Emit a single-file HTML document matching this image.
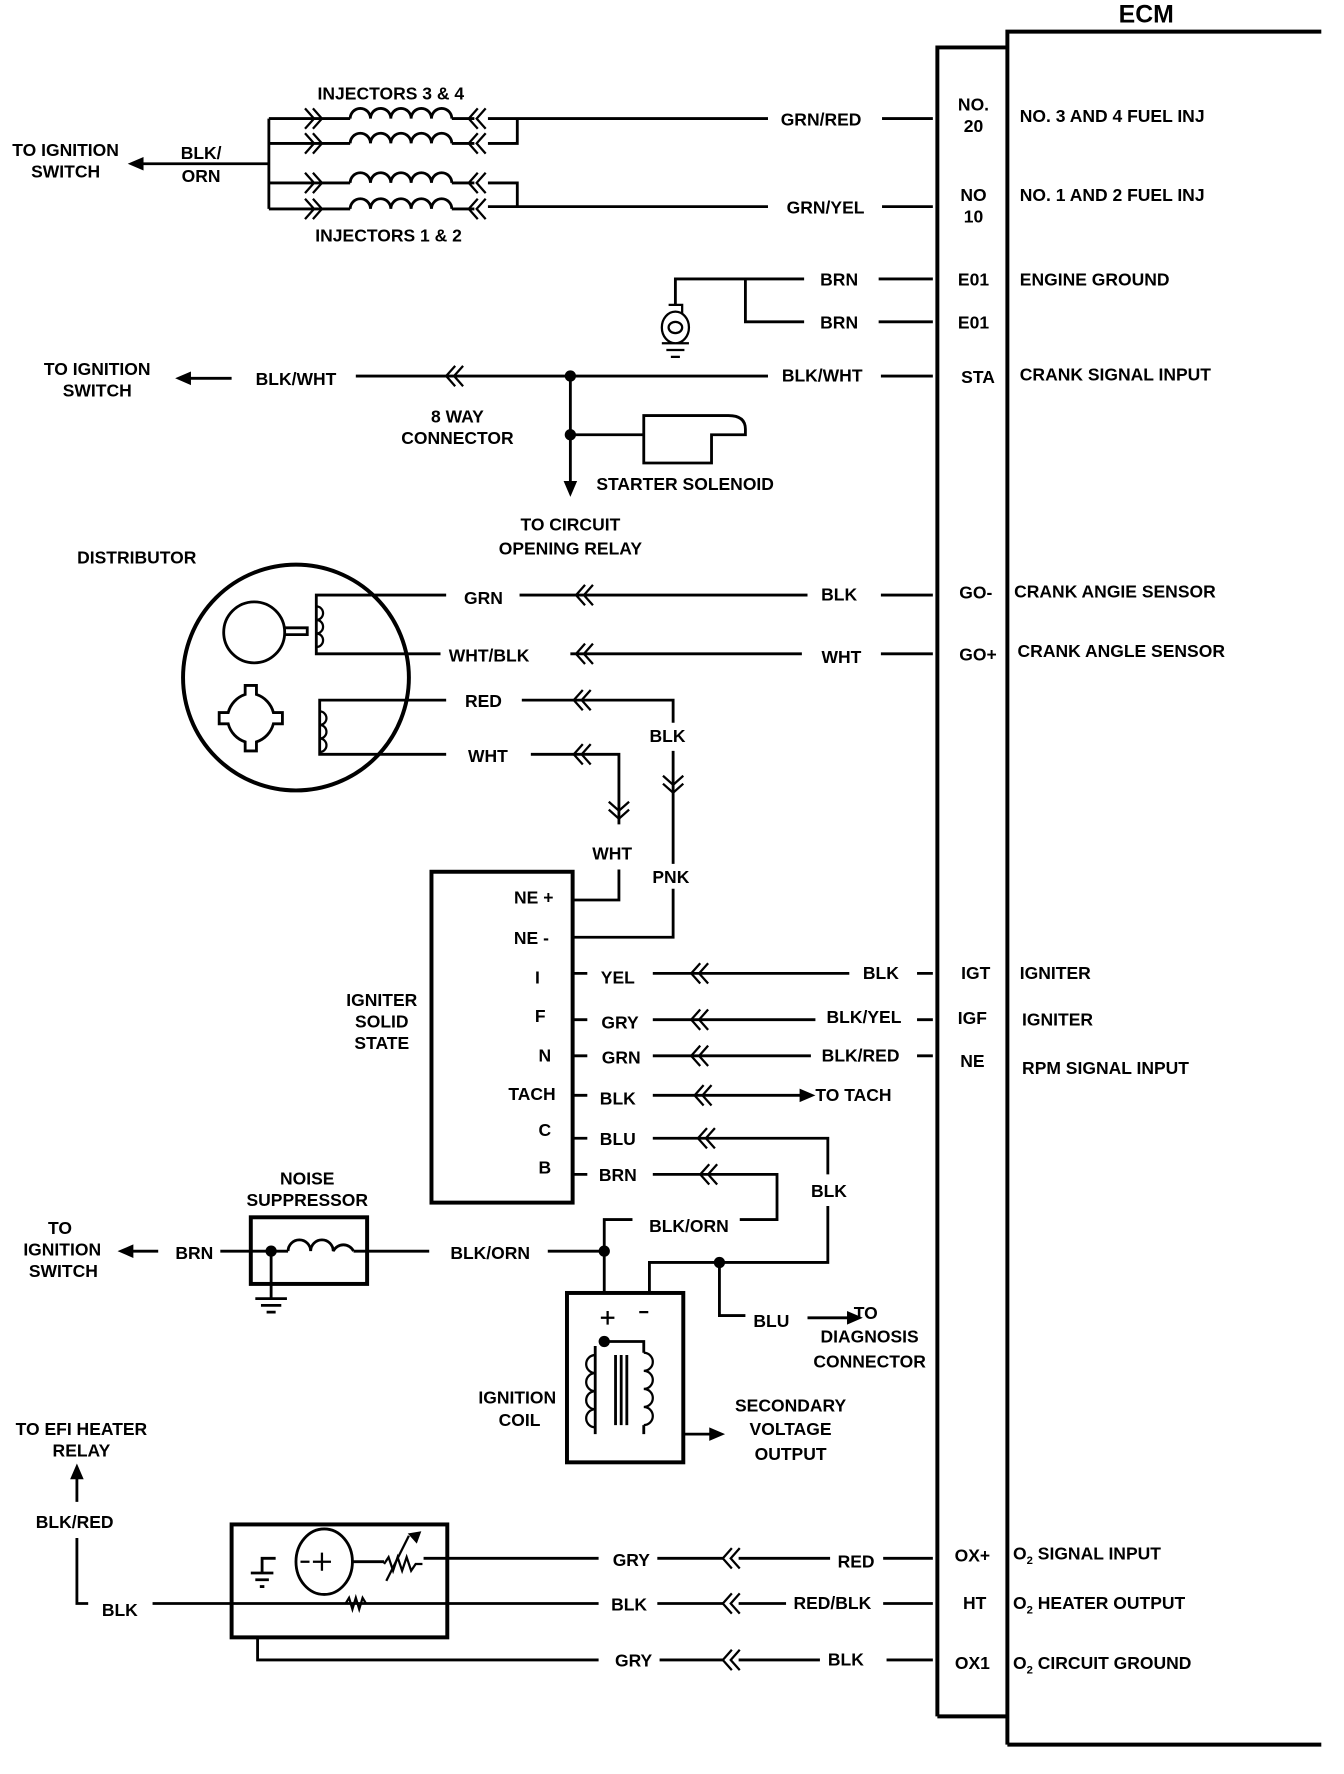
<!DOCTYPE html>
<html><head><meta charset="utf-8"><style>
html,body{margin:0;padding:0;background:#fff}
svg{display:block}
text{font-family:"Liberation Sans",sans-serif;font-weight:bold;font-size:15.5px;fill:#000}
.m{text-anchor:middle}
</style></head><body>
<svg width="1344" height="1774" viewBox="0 0 1190 1571" xmlns="http://www.w3.org/2000/svg">
<defs>
<g id="cl"><path d="M8 -9 L0 0 L8 9 M15 -9 L7 0 L15 9" fill="none" stroke="#000" stroke-width="2"/></g>
<g id="cr"><path d="M-8 -9 L0 0 L-8 9 M-15 -9 L-7 0 L-15 9" fill="none" stroke="#000" stroke-width="2"/></g>
<g id="cd"><path d="M-9 -8 L0 0 L9 -8 M-9 -15 L0 -7 L9 -15" fill="none" stroke="#000" stroke-width="2"/></g>
<path id="hump" d="M0 0 a9 9 0 0 1 18 0 a9 9 0 0 1 18 0 a9 9 0 0 1 18 0 a9 9 0 0 1 18 0 a9 9 0 0 1 18 0" fill="none" stroke="#000" stroke-width="2.5"/>
</defs>
<g fill="none" stroke="#000" stroke-width="2.5">
<path d="M830 1520 V42 H892" stroke-width="3.5"/>
<path d="M892 1545 V28 H1170" stroke-width="3.5"/>
<path d="M830 1520 H892 M892 1545 H1170" stroke-width="3.5"/>
<path d="M120 145 H238 M238 105 V185 M238 105 H270 M238 127 H270 M238 162 H270 M238 185 H270"/>
<path d="M270 105 H310 M400 105 H420 M270 127 H310 M400 127 H420 M270 162 H310 M400 162 H420 M270 185 H310 M400 185 H420"/>
<path d="M432 105 H680 M432 127 H458 V105 M781 105 H826"/>
<path d="M432 183 H680 M432 162 H458 V183 M781 183 H826"/>
<path d="M598 270 V247 H712 M660 247 V285 H712 M778 247 H826 M778 285 H826"/>
<path d="M315 333 H680 M780 333 H826 M163 335 H205 M505 333 V430 M505 385 H570"/>
<path d="M570 368 H645 Q660 368 660 380 L660 385 H630 V410 H570 Z"/>
<circle cx="262" cy="600" r="100" stroke-width="3.5"/>
<circle cx="225" cy="560" r="27"/>
<path d="M252 556 H272 V562 H252"/>
<path d="M395 527 H280 V579 H390 M460 527 H715 M780 527 H826 M505 579 H710 M780 579 H826"/>
<path d="M395 620 H283 V668 H395 M462 620 H596 V640 M596 665 V765 M596 787 V830 H507 M470 668 H548 V730 M548 770 V797 H507"/>
<path d="M217 607 h10 v8 a23 23 0 0 1 15 16 h8 v10 h-8 a23 23 0 0 1 -15 16 v8 h-10 v-8 a23 23 0 0 1 -15 -16 h-8 v-10 h8 a23 23 0 0 1 15 -16 z"/>
<rect x="382" y="772" width="125" height="293" stroke-width="3.5"/>
<path d="M507 862 H520 M578 862 H752 M812 862 H826"/>
<path d="M507 903 H520 M578 903 H722 M812 903 H826"/>
<path d="M507 935 H520 M578 935 H718 M812 935 H826"/>
<path d="M507 970 H520 M578 970 H715"/>
<path d="M507 1008 H520 M578 1008 H733 V1040 M733 1068 V1118 H575 V1145 M637 1118 V1165 H660 M715 1167 H758"/>
<path d="M507 1040 H520 M578 1040 H688 V1080 H655 M560 1080 H535 V1145"/>
<rect x="222" y="1078" width="103" height="59" stroke-width="3.5"/>
<path d="M112 1108 H140 M195 1108 H255 M313 1108 H380 M485 1108 H535 M240 1108 V1150 M226 1150 H254 M231 1156 H249 M236 1162 H244"/>
<rect x="502" y="1145" width="103" height="150" stroke-width="3.5"/>
<path d="M535 1188 H570 V1198 M527 1192 V1270 M570 1262 V1270 M545 1200 V1262 M550 1200 V1262 M555 1200 V1262 M605 1270 H635"/>
<path d="M68 1300 V1330 M68 1362 V1420 H78 M135 1420 H530 M375 1380 H530 M228 1450 V1470 H530"/>
<rect x="205" y="1350" width="191" height="100" stroke-width="3.5"/>
<path d="M244 1380 H232 V1392 M222 1393 H242 M226 1399 H238 M230 1405 H234"/>
<ellipse cx="287" cy="1383" rx="25" ry="29"/>
<path d="M312 1383 H340"/>
<path d="M582 1380 H640 M654 1380 H735 M782 1380 H826 M582 1420 H640 M654 1420 H696 M782 1420 H826 M584 1470 H640 M654 1470 H726 M785 1470 H826"/>
</g>
<g fill="none" stroke="#000" stroke-width="2">
<path d="M340 1385 l4 -6 l4 12 l4 -12 l4 12 l4 -12 l4 12 l4 -6 h6"/>
<path d="M342 1400 L362 1360"/>
<path d="M306 1420 l3 -5 l3 10 l3 -10 l3 10 l3 -10 l3 5"/>
<path d="M285 1375 V1391 M277 1383 H293 M266 1383 H274"/>
<path d="M527 1200 a8 8 0 0 0 0 16 a8 8 0 0 0 0 16 a8 8 0 0 0 0 16 a8 8 0 0 0 0 16 M570 1198 a8 8 0 0 1 0 16 a8 8 0 0 1 0 16 a8 8 0 0 1 0 16 a8 8 0 0 1 0 16"/>
<path d="M280 537 a6 6 0 0 1 0 12 a6 6 0 0 1 0 12 a6 6 0 0 1 0 12 M283 630 a6 6 0 0 1 0 12 a6 6 0 0 1 0 12 a6 6 0 0 1 0 12"/>
<path d="M592 270 h12 v8 M598 278 m-12 12 a12 14 0 1 0 24 0 a12 14 0 1 0 -24 0 M592 290 a6 5 0 1 0 12 0 a6 5 0 1 0 -12 0 M586 304 H610 M590 310 H606 M594 316 H602"/>
<path d="M532 1167 H544 M538 1161 V1173 M566 1162 H574"/>
</g>
<g fill="#000">
<circle cx="505" cy="333" r="5"/><circle cx="505" cy="385" r="5"/>
<circle cx="535" cy="1108" r="5"/><circle cx="637" cy="1118" r="5"/><circle cx="240" cy="1108" r="5"/><circle cx="535" cy="1188" r="5"/>
<path d="M113 145 l14 -6 v12 z M155 335 l14 -6 v12 z M505 440 l-6 -14 h12 z M68 1296 l-6 14 h12 z M722 970 l-14 -6 v12 z M764 1167 l-14 -6 v12 z M642 1270 l-14 -6 v12 z M104 1108 l14 -6 v12 z M373 1356 l-12 2 l8 9 z"/>
</g>
<use href="#hump" x="310" y="105"/><use href="#hump" x="310" y="127"/><use href="#hump" x="310" y="162"/><use href="#hump" x="310" y="185"/>
<path d="M255 1108 a10 10 0 0 1 20 0 a10 10 0 0 1 20 0 a10 10 0 0 1 18 0" fill="none" stroke="#000" stroke-width="2.5"/>
<use href="#cr" x="285" y="105"/><use href="#cr" x="285" y="127"/><use href="#cr" x="285" y="162"/><use href="#cr" x="285" y="185"/>
<use href="#cl" x="415" y="105"/><use href="#cl" x="415" y="127"/><use href="#cl" x="415" y="162"/><use href="#cl" x="415" y="185"/>
<use href="#cl" x="395" y="333"/>
<use href="#cl" x="510" y="527"/><use href="#cl" x="510" y="579"/><use href="#cl" x="508" y="620"/><use href="#cl" x="508" y="668"/>
<use href="#cd" x="548" y="725"/><use href="#cd" x="596" y="702"/>
<use href="#cl" x="612" y="862"/><use href="#cl" x="612" y="903"/><use href="#cl" x="612" y="935"/><use href="#cl" x="615" y="970"/><use href="#cl" x="618" y="1008"/><use href="#cl" x="620" y="1040"/>
<use href="#cl" x="640" y="1380"/><use href="#cl" x="640" y="1420"/><use href="#cl" x="640" y="1470"/>

<text x="1015" y="20" class="m" style="font-size:22px">ECM</text>
<text x="862" y="98" class="m">NO.</text><text x="862" y="117" class="m">20</text>
<text x="862" y="178" class="m">NO</text><text x="862" y="197" class="m">10</text>
<text x="862" y="253" class="m">E01</text><text x="862" y="291" class="m">E01</text>
<text x="866" y="339" class="m">STA</text>
<text x="864" y="530" class="m">GO-</text><text x="866" y="585" class="m">GO+</text>
<text x="864" y="867" class="m">IGT</text><text x="861" y="907" class="m">IGF</text><text x="861" y="945" class="m">NE</text>
<text x="861" y="1383" class="m">OX+</text><text x="863" y="1425" class="m">HT</text><text x="861" y="1478" class="m">OX1</text>
<text x="903" y="108">NO. 3 AND 4 FUEL INJ</text>
<text x="903" y="178">NO. 1 AND 2 FUEL INJ</text>
<text x="903" y="253">ENGINE GROUND</text>
<text x="903" y="337">CRANK SIGNAL INPUT</text>
<text x="898" y="529">CRANK ANGIE SENSOR</text>
<text x="901" y="582">CRANK ANGLE SENSOR</text>
<text x="903" y="867">IGNITER</text><text x="905" y="908">IGNITER</text>
<text x="905" y="951">RPM SIGNAL INPUT</text>
<text x="897" y="1381">O<tspan dy="4" style="font-size:10px">2</tspan><tspan dy="-4"> SIGNAL INPUT</tspan></text>
<text x="897" y="1425">O<tspan dy="4" style="font-size:10px">2</tspan><tspan dy="-4"> HEATER OUTPUT</tspan></text>
<text x="897" y="1478">O<tspan dy="4" style="font-size:10px">2</tspan><tspan dy="-4"> CIRCUIT GROUND</tspan></text>
<text x="727" y="111" class="m">GRN/RED</text><text x="731" y="189" class="m">GRN/YEL</text>
<text x="743" y="253" class="m">BRN</text><text x="743" y="291" class="m">BRN</text>
<text x="728" y="338" class="m">BLK/WHT</text><text x="262" y="341" class="m">BLK/WHT</text>
<text x="346" y="88" class="m">INJECTORS 3 &amp; 4</text><text x="344" y="214" class="m">INJECTORS 1 &amp; 2</text>
<text x="58" y="138" class="m">TO IGNITION</text><text x="58" y="157" class="m">SWITCH</text>
<text x="178" y="141" class="m">BLK/</text><text x="178" y="161" class="m">ORN</text>
<text x="86" y="332" class="m">TO IGNITION</text><text x="86" y="351" class="m">SWITCH</text>
<text x="405" y="374" class="m">8 WAY</text><text x="405" y="393" class="m">CONNECTOR</text>
<text x="528" y="434">STARTER SOLENOID</text>
<text x="505" y="470" class="m">TO CIRCUIT</text><text x="505" y="491" class="m">OPENING RELAY</text>
<text x="121" y="499" class="m">DISTRIBUTOR</text>
<text x="428" y="535" class="m">GRN</text><text x="743" y="532" class="m">BLK</text>
<text x="433" y="586" class="m">WHT/BLK</text><text x="745" y="587" class="m">WHT</text>
<text x="428" y="626" class="m">RED</text><text x="432" y="675" class="m">WHT</text>
<text x="591" y="657" class="m">BLK</text><text x="542" y="761" class="m">WHT</text><text x="594" y="782" class="m">PNK</text>
<text x="490" y="800" style="text-anchor:end">NE +</text><text x="486" y="836" style="text-anchor:end">NE -</text>
<text x="478" y="871" style="text-anchor:end">I</text><text x="483" y="905" style="text-anchor:end">F</text>
<text x="488" y="940" style="text-anchor:end">N</text><text x="492" y="974" style="text-anchor:end">TACH</text>
<text x="488" y="1006" style="text-anchor:end">C</text><text x="488" y="1039" style="text-anchor:end">B</text>
<text x="338" y="891" class="m">IGNITER</text><text x="338" y="910" class="m">SOLID</text><text x="338" y="929" class="m">STATE</text>
<text x="547" y="871" class="m">YEL</text><text x="780" y="867" class="m">BLK</text>
<text x="549" y="911" class="m">GRY</text><text x="765" y="906" class="m">BLK/YEL</text>
<text x="550" y="942" class="m">GRN</text><text x="762" y="940" class="m">BLK/RED</text>
<text x="547" y="978" class="m">BLK</text><text x="722" y="975">TO TACH</text>
<text x="547" y="1014" class="m">BLU</text><text x="547" y="1046" class="m">BRN</text>
<text x="734" y="1060" class="m">BLK</text><text x="610" y="1091" class="m">BLK/ORN</text>
<text x="434" y="1115" class="m">BLK/ORN</text><text x="172" y="1115" class="m">BRN</text>
<text x="272" y="1049" class="m">NOISE</text><text x="272" y="1068" class="m">SUPPRESSOR</text>
<text x="53" y="1093" class="m">TO</text><text x="55" y="1112" class="m">IGNITION</text><text x="56" y="1131" class="m">SWITCH</text>
<text x="683" y="1175" class="m">BLU</text><text x="756" y="1168">TO</text>
<text x="770" y="1189" class="m">DIAGNOSIS</text><text x="770" y="1211" class="m">CONNECTOR</text>
<text x="458" y="1243" class="m">IGNITION</text><text x="460" y="1263" class="m">COIL</text>
<text x="700" y="1250" class="m">SECONDARY</text><text x="700" y="1271" class="m">VOLTAGE</text><text x="700" y="1293" class="m">OUTPUT</text>
<text x="72" y="1271" class="m">TO EFI HEATER</text><text x="72" y="1290" class="m">RELAY</text>
<text x="66" y="1353" class="m">BLK/RED</text><text x="106" y="1431" class="m">BLK</text>
<text x="559" y="1387" class="m">GRY</text><text x="758" y="1388" class="m">RED</text>
<text x="557" y="1426" class="m">BLK</text><text x="737" y="1425" class="m">RED/BLK</text>
<text x="561" y="1476" class="m">GRY</text><text x="749" y="1475" class="m">BLK</text>
</svg>
</body></html>
